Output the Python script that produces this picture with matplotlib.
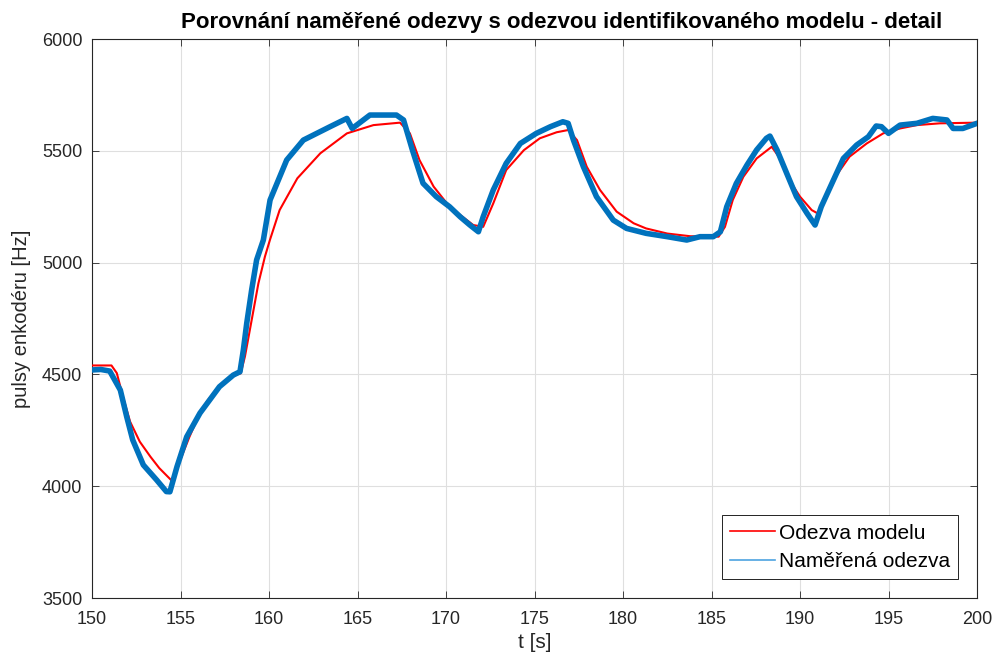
import matplotlib.pyplot as plt
from matplotlib.lines import Line2D

# --- DATA ---
model_t = [150.0, 151.1, 151.4, 151.77, 152.15, 152.7, 153.3, 153.8, 154.5,
           155.0, 155.5, 156.0, 156.5, 157.0, 157.5, 158.0, 158.4,
           158.64, 159.02, 159.4, 159.77, 160.05, 160.6, 161.6, 162.9, 164.4, 165.9, 167.4,
           167.96, 168.5, 169.3, 170.2, 171.54, 172.1,
           172.67, 173.4, 174.4, 175.3, 176.25, 176.9,
           177.4, 177.95, 178.7, 179.64, 180.6, 181.3, 182.5, 183.8, 185.4,
           185.76, 186.2, 186.8, 187.55, 188.4,
           188.87, 189.4, 190.0, 190.66, 191.0,
           191.5, 192.07, 192.8, 193.77, 194.7, 195.65, 196.6, 197.9, 200.0]
model_y = [4540, 4540, 4506, 4394, 4289, 4199, 4132, 4081, 4025,
           4120, 4220, 4310, 4380, 4430, 4470, 4495, 4505,
           4580, 4743, 4907, 5027, 5101, 5235, 5377, 5489, 5578, 5615, 5626,
           5578, 5459, 5340, 5250, 5168, 5160,
           5265, 5414, 5503, 5556, 5583, 5593,
           5548, 5429, 5325, 5228, 5176, 5153, 5130, 5118, 5116,
           5160, 5280, 5384, 5466, 5518,
           5466, 5369, 5295, 5235, 5220,
           5295, 5392, 5474, 5533, 5578, 5600, 5615, 5623, 5626]

meas_t = [150.0, 150.5, 151.0, 151.6, 151.96, 152.3, 152.9, 153.65, 154.2, 154.4,
          154.8, 155.35, 156.1, 157.2, 157.98, 158.36,
          158.55, 158.74, 159.02, 159.3, 159.68, 160.06, 161.0, 161.94, 163.45, 164.4,
          164.7, 165.7, 167.2, 167.6, 168.1, 168.7, 169.45, 170.2,
          170.8, 171.35, 171.83, 172.1, 172.67, 173.4, 174.2, 175.1, 175.9, 176.6, 176.9,
          177.2, 177.76, 178.5, 179.45, 180.2, 181.3, 182.5, 183.6, 184.35, 185.1, 185.5,
          185.86, 186.4, 187.0, 187.55, 188.1, 188.3,
          188.7, 189.25, 189.8, 190.4, 190.85,
          191.2, 191.8, 192.45, 193.2, 193.86, 194.3, 194.6, 195.0, 195.65, 196.6,
          197.5, 198.3, 198.65, 199.2, 200.0]
meas_y = [4520, 4522, 4515, 4430, 4311, 4207, 4095, 4028, 3976, 3975,
          4087, 4221, 4327, 4445, 4497, 4512,
          4609, 4728, 4878, 5012, 5101, 5280, 5459, 5548, 5608, 5645,
          5600, 5660, 5660, 5638, 5504, 5355, 5295, 5250,
          5205, 5168, 5138, 5205, 5325, 5444, 5533, 5578, 5608, 5630, 5623,
          5548, 5429, 5295, 5190, 5153, 5131, 5116, 5101, 5116, 5116, 5138,
          5250, 5354, 5436, 5504, 5556, 5566,
          5504, 5399, 5295, 5220, 5168,
          5250, 5354, 5466, 5526, 5563, 5611, 5608, 5578, 5615, 5623,
          5645, 5638, 5600, 5600, 5623]

x_ticks = list(range(150, 201, 5))
y_ticks = list(range(3500, 6001, 500))

TITLE = "Porovnání naměřené odezvy s odezvou identifikovaného modelu - detail"
XLABEL = "t [s]"
YLABEL = "pulsy enkodéru [Hz]"
LEGEND = ["Odezva modelu", "Naměřená odezva"]

# --- STYLE ---
plt.rcParams["font.family"] = ["Liberation Sans", "DejaVu Sans"]
AX_COLOR = "#262626"
BLUE = "#0072BD"

fig = plt.figure(figsize=(9.99, 6.66), dpi=100)
ax = fig.add_axes([0.0921, 0.1021, 0.8859, 0.8393])

ax.plot(model_t, model_y, color="red", linewidth=1.5, zorder=3)
ax.plot(meas_t, meas_y, color=BLUE, linewidth=4.0, zorder=4,
        solid_joinstyle="round")

ax.set_xlim(150, 200)
ax.set_ylim(3500, 6000)
ax.set_xticks(x_ticks)
ax.set_yticks(y_ticks)
ax.grid(True, color="#dfdfdf", linewidth=0.8)
ax.set_axisbelow(True)

ax.tick_params(direction="in", top=True, right=True, length=5,
               colors=AX_COLOR, labelsize=13, width=0.6)
ax.tick_params(axis="x", pad=9)
ax.tick_params(axis="y", pad=7)
for s in ax.spines.values():
    s.set_color(AX_COLOR)
    s.set_linewidth(0.8)

ax.set_title(TITLE, fontsize=16, fontweight="bold", color="black", pad=8,
             x=0.5305)
ax.set_xlabel(XLABEL, fontsize=15, color=AX_COLOR, labelpad=4)
ax.set_ylabel(YLABEL, fontsize=14.5, color=AX_COLOR, labelpad=8)

handles = [Line2D([], [], color="red", linewidth=1.2),
           Line2D([], [], color="#4DA3E0", linewidth=1.2)]
leg = ax.legend(handles, LEGEND, loc="lower right", fontsize=15,
                fancybox=False, framealpha=1, edgecolor="black",
                borderpad=0.4, handlelength=2.15, handletextpad=0.2,
                labelspacing=0.45, borderaxespad=0.9)
leg.get_frame().set_linewidth(0.6)

fig.savefig("out.png", dpi=100)
